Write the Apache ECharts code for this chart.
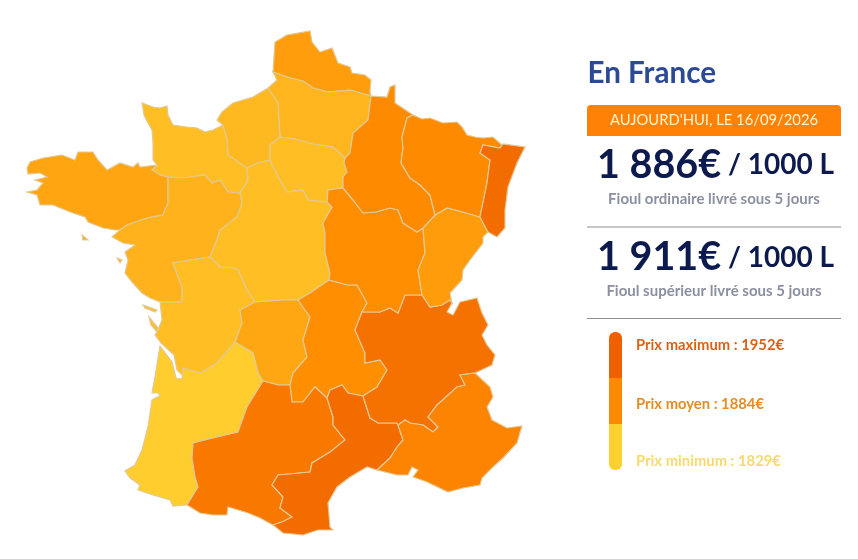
<!DOCTYPE html>
<html><head><meta charset="utf-8">
<style>html,body{margin:0;padding:0;background:#fff}#c{width:858px;height:559px}</style>
<script src="https://cdn.jsdelivr.net/npm/echarts@6/dist/echarts.min.js"></script>
</head><body><div id="c"></div>
<script>
// Data
const regionNames = ['Nord-Pas-de-Calais','Picardie','Haute-Normandie','Basse-Normandie','Île-de-France','Bretagne','Pays de la Loire','Centre','Poitou-Charentes','Limousin','Auvergne','Aquitaine','Midi-Pyrénées','Languedoc-Roussillon','Rhône-Alpes','PACA','Bourgogne','Franche-Comté','Champagne-Ardenne','Lorraine','Alsace'];
const regionPrices = [1875,1853,1850,1844,1845,1868,1856,1844,1844,1866,1889,1832,1921,1940,1932,1903,1890,1876,1893,1893,1940];
const priceMin = 1829, priceAvg = 1884, priceMax = 1952;
const panelTitle = 'En France';
const dateLabel = "AUJOURD'HUI, LE 16/09/2026";
const ordinaryPrice = '1 886€', superiorPrice = '1 911€', perUnit = ' / 1000 L';
const ordinaryNote = 'Fioul ordinaire livré sous 5 jours', superiorNote = 'Fioul supérieur livré sous 5 jours';

// Region outlines (traced boundary arcs, shared between neighbouring regions)
const arcs = {
 npcCoast:[[273,72],[275,42],[287,35],[310,31],[312,42],[320,52],[332,48],[338,63],[350,67],[352,73],[365,75],[371,80],[370,92],[371,96]],
 npcPic:[[371,96],[350,90],[328,92],[313,88],[303,81],[290,78],[273,72]],
 picCoast:[[273,72],[277,80],[268,88]],
 picHN:[[268,88],[278,103],[279,120],[280,137]],
 picIdf:[[280,137],[295,139],[313,144],[333,147],[345,158]],
 picCha:[[371,96],[368,120],[353,133],[350,153],[345,158]],
 hnCoast:[[268,88],[253,97],[233,103],[222,112],[217,120],[223,125]],
 hnBN:[[223,125],[227,140],[228,155],[247,168]],
 hnCentre:[[247,168],[258,163],[270,160]],
 hnIdf:[[270,160],[270,145],[280,137]],
 idfCentre:[[270,160],[272,165],[280,180],[287,192],[303,190],[308,200],[327,202]],
 idfBour:[[327,202],[328,190],[343,188]],
 idfCha:[[343,188],[343,177],[347,172],[344,163],[345,158]],
 chaBour:[[343,188],[353,200],[363,213],[376,212],[390,208],[398,210],[403,223],[417,232],[423,228]],
 chaFC:[[423,228],[435,215]],
 chaLor:[[435,215],[430,195],[420,185],[410,178],[401,163],[403,148],[402,137],[407,118],[413,115]],
 chaCoast:[[371,96],[387,97],[390,87],[395,85],[395,103],[413,115]],
 lorCoast:[[413,115],[422,119],[430,118],[443,123],[457,122],[462,127],[467,135],[475,137],[483,138],[493,137],[502,145],[500,148]],
 lorAls:[[500,148],[483,145],[480,153],[490,160],[487,183],[480,217]],
 lorFC:[[480,217],[463,212],[447,208],[435,215]],
 alsCoast:[[500,148],[503,144],[525,147],[517,163],[508,187],[505,210],[505,228],[497,237],[488,232]],
 alsFC:[[488,232],[480,217]],
 fcCoast:[[488,232],[483,237],[483,243],[470,260],[463,270],[462,280],[450,293],[452,303]],
 fcBour:[[423,228],[425,253],[418,270],[422,295]],
 fcRho:[[422,295],[430,307],[442,305],[450,300],[452,303]],
 bourRho:[[422,295],[405,295],[398,313],[390,308],[380,312],[362,312]],
 bourAuv:[[362,312],[367,303],[357,285],[348,285],[329,280]],
 bourCentre:[[327,202],[332,207],[323,223],[325,233],[325,253],[330,273],[329,280]],
 centreAuv:[[329,280],[310,293],[298,300]],
 centreLim:[[298,300],[283,300],[255,302]],
 centrePoi:[[255,302],[247,290],[238,270],[233,268],[220,267],[210,257]],
 centrePdl:[[210,257],[217,240],[220,230],[237,217],[242,203],[240,193]],
 centreBN:[[240,193],[248,180],[247,168]],
 bnCoast:[[223,125],[213,130],[205,132],[197,128],[187,127],[173,125],[168,115],[167,106],[160,108],[153,107],[142,103],[144,115],[148,123],[152,130],[153,143],[153,160],[157,165]],
 bnBre:[[157,165],[152,170],[160,175],[168,177]],
 bnPdl:[[168,177],[183,178],[205,175],[212,183],[220,180],[228,192],[240,193]],
 breCoast:[[157,165],[140,167],[138,163],[133,167],[120,163],[107,170],[98,160],[93,152],[78,152],[75,160],[62,155],[43,158],[30,162],[27,168],[28,174],[40,173],[47,177],[35,180],[43,183],[37,190],[27,192],[37,195],[40,205],[53,205],[70,212],[85,217],[88,222],[103,228],[115,230],[120,230]],
 brePdl:[[120,230],[127,225],[147,218],[163,215],[168,203],[168,177]],
 pdlCoast:[[120,230],[112,237],[123,243],[135,245],[125,252],[128,260],[125,273],[132,282],[142,293],[150,298],[160,302]],
 pdlPoi:[[160,302],[182,302],[182,287],[178,277],[173,263],[190,260],[210,257]],
 poiCoast:[[160,302],[162,320],[158,330],[155,335],[161,343],[174,355],[177,370],[182,375],[183,368]],
 poiAq:[[183,368],[200,373],[217,363],[235,342]],
 poiLim:[[235,342],[242,323],[240,310],[255,302]],
 limAuv:[[298,300],[310,317],[303,340],[307,357],[293,373],[290,385]],
 limAq:[[235,342],[253,353],[258,373],[263,381]],
 limMP:[[263,381],[278,385],[290,385]],
 aqCoast:[[183,368],[182,379],[176,378],[172,362],[160,346],[155,377],[152,393],[158,393],[160,396],[155,398],[152,400],[148,427],[142,450],[135,465],[125,471],[130,478],[140,485],[138,490],[153,495],[170,500],[173,506],[187,505]],
 aqMP:[[187,505],[198,487],[195,477],[192,458],[193,443],[213,438],[238,432],[243,418],[247,407],[263,381]],
 mpAuv:[[290,385],[292,402],[303,402],[315,387],[327,398]],
 mpLR:[[327,398],[333,417],[333,425],[345,440],[330,452],[312,463],[310,472],[278,475],[272,485],[283,497],[280,508],[292,517],[282,522],[273,525]],
 mpCoast:[[273,525],[260,518],[248,513],[228,507],[227,515],[213,515],[200,513],[187,505]],
 lrAuv:[[327,398],[330,390],[342,385],[348,393],[363,396]],
 lrRho:[[363,396],[370,418],[378,423],[397,423],[398,425]],
 lrPaca:[[398,425],[403,440],[397,447],[390,458],[377,470]],
 lrCoast:[[377,470],[367,467],[350,477],[337,487],[328,503],[330,527],[333,530],[318,530],[303,535],[283,533],[273,525]],
 auvRho:[[362,312],[355,330],[365,353],[365,363],[380,360],[387,370],[377,387],[363,396]],
 rhoPaca:[[398,425],[405,420],[410,423],[423,425],[433,432],[438,427],[428,417],[437,405],[457,387],[465,385],[460,375],[475,373]],
 rhoCoast:[[452,303],[447,312],[453,315],[460,302],[477,298],[482,313],[488,325],[482,335],[487,345],[495,355],[492,365],[475,373]],
 pacaCoast:[[475,373],[490,387],[493,397],[487,407],[492,420],[507,428],[522,426],[517,443],[503,458],[493,467],[482,478],[480,485],[463,488],[448,492],[427,482],[413,477],[418,470],[412,467],[408,475],[397,475],[377,470]]
};
const rings = {
 'Nord-Pas-de-Calais':['npcCoast','npcPic'],
 'Picardie':['-npcPic','picCha','-picIdf','-picHN','-picCoast'],
 'Haute-Normandie':['picHN','-hnIdf','-hnCentre','-hnBN','-hnCoast'],
 'Basse-Normandie':['bnCoast','bnBre','bnPdl','centreBN','-hnBN'],
 'Île-de-France':['picIdf','-idfCha','-idfBour','-idfCentre','hnIdf'],
 'Bretagne':['breCoast','brePdl','-bnBre'],
 'Pays de la Loire':['pdlCoast','pdlPoi','centrePdl','-bnPdl','-brePdl'],
 'Centre':['hnCentre','idfCentre','bourCentre','centreAuv','centreLim','centrePoi','centrePdl','centreBN'],
 'Poitou-Charentes':['poiCoast','poiAq','poiLim','centrePoi','-pdlPoi'],
 'Limousin':['-centreLim','limAuv','-limMP','-limAq','poiLim'],
 'Auvergne':['-centreAuv','-bourAuv','auvRho','-lrAuv','-mpAuv','-limAuv'],
 'Aquitaine':['aqCoast','aqMP','-limAq','-poiAq'],
 'Midi-Pyrénées':['-aqMP','-mpCoast','-mpLR','-mpAuv','-limMP'],
 'Languedoc-Roussillon':['mpLR','-lrCoast','-lrPaca','-lrRho','-lrAuv'],
 'Rhône-Alpes':['-bourRho','fcRho','rhoCoast','-rhoPaca','-lrRho','-auvRho'],
 'PACA':['rhoPaca','pacaCoast','-lrPaca'],
 'Bourgogne':['-bourCentre','idfBour','chaBour','fcBour','bourRho','bourAuv'],
 'Franche-Comté':['chaFC','-lorFC','-alsFC','fcCoast','-fcRho','-fcBour'],
 'Champagne-Ardenne':['chaCoast','-chaLor','-chaFC','-chaBour','idfCha','-picCha'],
 'Lorraine':['lorCoast','lorAls','lorFC','chaLor'],
 'Alsace':['alsCoast','alsFC','-lorAls']
};
const islands = {
 'Bretagne':[[[82,235],[88,240],[83,240]]],
 'Pays de la Loire':[[[117,258],[122,260],[120,263]]],
 'Poitou-Charentes':[[[143,305],[157,310],[155,312],[145,308]],[[149,317],[158,328],[157,332],[151,325]]]
};
function ringOf(list){
  const pts=[];
  list.forEach(k=>{
    const rev=k[0]==='-';
    const a=arcs[rev?k.slice(1):k];
    (rev?a.slice().reverse():a).forEach(p=>pts.push(p));
  });
  pts.push(pts[0]);
  return pts;
}
const features = regionNames.map(n=>({
  type:'Feature',properties:{name:n},
  geometry:{type:'MultiPolygon',coordinates:[[ringOf(rings[n])]].concat((islands[n]||[]).map(r=>[r.concat([r[0]])]))}
}));
echarts.registerMap('fr',{type:'FeatureCollection',features});
let x0=1e9,x1=-1e9,y0=1e9,y1=-1e9;
features.forEach(f=>f.geometry.coordinates.forEach(pg=>pg[0].forEach(p=>{x0=Math.min(x0,p[0]);x1=Math.max(x1,p[0]);y0=Math.min(y0,p[1]);y1=Math.max(y1,p[1]);})));

const FONT='Lato';
function txt(x,y,text,size,weight,fill,align){
  return {type:'text',silent:true,style:{x,y,text,font:weight+' '+size+'px '+FONT,fill,align:align||'left',verticalAlign:'middle'}};
}
const priceRich={a:{font:'bold 39.5px '+FONT,fill:'#0c1a4e'},b:{font:'bold 28px '+FONT,fill:'#0c1a4e'}};
const graphics=[
  txt(587.5,73,panelTitle,29.6,'bold','#2b4a93'),
  {type:'rect',silent:true,shape:{x:587,y:105,width:254,height:31,r:[4,4,0,0]},style:{fill:'#ff8206'}},
  txt(714,120.5,dateLabel,14.8,'normal','#fff3cf','center'),
  {type:'text',silent:true,style:{x:597,y:165,text:'{a|'+ordinaryPrice+'}{b|'+perUnit+'}',verticalAlign:'middle',rich:priceRich}},
  txt(714,199,ordinaryNote,15,'bold','#8b90a0','center'),
  {type:'line',silent:true,shape:{x1:587,y1:227,x2:841,y2:227},style:{stroke:'#8f8f8f',lineWidth:1}},
  {type:'text',silent:true,style:{x:597,y:257.5,text:'{a|'+superiorPrice+'}{b|'+perUnit+'}',verticalAlign:'middle',rich:priceRich}},
  txt(714,291,superiorNote,15,'bold','#8b90a0','center'),
  {type:'line',silent:true,shape:{x1:587,y1:318.5,x2:841,y2:318.5},style:{stroke:'#8f8f8f',lineWidth:1}},
  {type:'rect',silent:true,shape:{x:609,y:332,width:13,height:46,r:[6,6,0,0]},style:{fill:'#f06000'}},
  {type:'rect',silent:true,shape:{x:609,y:378,width:13,height:46},style:{fill:'#ff8a00'}},
  {type:'rect',silent:true,shape:{x:609,y:424,width:13,height:46,r:[0,0,6,6]},style:{fill:'#fed02e'}},
  txt(636,345.5,'Prix maximum : '+priceMax+'€',14.8,'bold','#d8621a'),
  txt(636,404.5,'Prix moyen : '+priceAvg+'€',14.8,'bold','#e68c24'),
  txt(636,461.5,'Prix minimum : '+priceMin+'€',14.8,'bold','#f6da70')
];
const chart=echarts.init(document.getElementById('c'),null,{renderer:'canvas'});
chart.setOption({
  animation:false,
  backgroundColor:'#fff',
  visualMap:{show:false,min:priceMin,max:priceMax,seriesIndex:0,inRange:{color:['#ffd030','#ff8c00','#f06400']}},
  series:[{
    type:'map',map:'fr',silent:true,selectedMode:false,roam:false,
    projection:{project:p=>p,unproject:p=>p},
    left:x0,top:y0,width:x1-x0,height:y1-y0,
    label:{show:false},
    itemStyle:{borderColor:'#e2c993',borderWidth:1.2},
    emphasis:{disabled:true},
    data:regionNames.map((n,i)=>({name:n,value:regionPrices[i]}))
  }],
  graphic:{elements:graphics}
});
</script></body></html>
